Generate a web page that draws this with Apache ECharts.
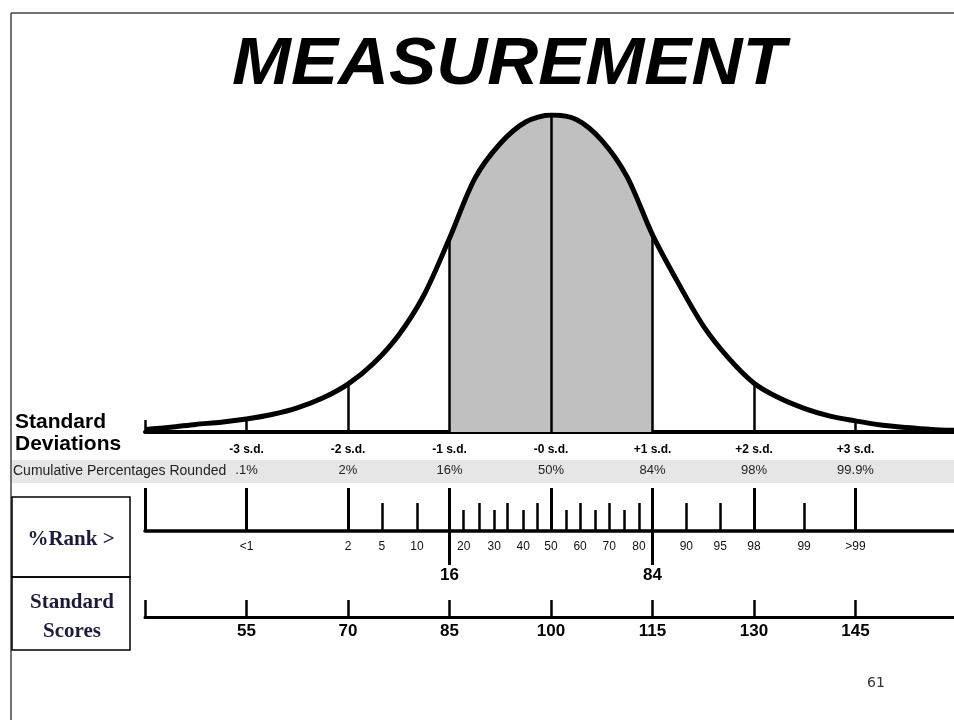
<!DOCTYPE html>
<html><head><meta charset="utf-8">
<script src="https://cdn.jsdelivr.net/npm/echarts@6/dist/echarts.min.js"></script>
<style>html,body{margin:0;padding:0;background:#fff;overflow:hidden}#c{width:954px;height:720px}</style>
</head><body><div id="c"></div>
<script>
// ---------- data ----------
const titleText = 'MEASUREMENT';
// bell curve: standard score vs curve height (% of peak), read every 1/4 s.d.
const curveScores  = [40, 43.75, 47.5, 51.25, 55, 58.75, 62.5, 66.25, 70, 73.75, 77.5, 81.25, 85, 88.75, 92.5, 96.25, 100,
                      103.75, 107.5, 111.25, 115, 118.75, 122.5, 126.25, 130, 133.75, 137.5, 141.25, 145, 148.75, 152.5, 156.25, 160];
const curveHeights = [0.8, 1.5, 2.4, 3.1, 4.1, 5.5, 7.6, 10.7, 15.1, 21.6, 30.6, 43.3, 61.1, 80, 91, 97.8, 100,
                      98.6, 92, 80.5, 62.2, 47.2, 33.5, 23.3, 15.4, 10.7, 7.4, 5.0, 3.5, 2.2, 1.4, 0.8, 0.5];
const shadeFrom = 85, shadeTo = 115;
// standard deviation marks
const sdScores = [55, 70, 85, 100, 115, 130, 145];
const sdLabels = ['-3 s.d.', '-2 s.d.', '-1 s.d.', '-0 s.d.', '+1 s.d.', '+2 s.d.', '+3 s.d.'];
const cumPercentLabels = ['.1%', '2%', '16%', '50%', '84%', '98%', '99.9%'];
const scoreLabels = ['55', '70', '85', '100', '115', '130', '145'];
// percentile rank scale (position given in standard-score units)
const rankNames  = ['<1', '2', '5', '10', '16', '20', '25', '30', '35', '40', '45', '50', '55', '60', '65', '70', '75', '80', '84', '90', '95', '98', '99', '>99'];
const rankScores = [55, 70, 75, 80.2, 85, 87.1, 89.4, 91.6, 93.6, 95.9, 97.9, 100, 102.2, 104.3, 106.5, 108.6, 110.8, 113, 115, 120, 125, 130, 137.4, 145];
const rankMajor = ['<1', '2', '16', '50', '84', '98', '>99'];
const rankShort = ['20', '30', '40', '55', '65', '75'];
const rankLabelled = ['<1', '2', '5', '10', '20', '30', '40', '50', '60', '70', '80', '90', '95', '98', '99', '>99'];
const rankBold = ['16', '84'];
const axisStart = 40, axisEnd = 160;

// ---------- helpers ----------
const rankPos = names => names.map(n => rankScores[rankNames.indexOf(n)]);
const rankTall = rankNames.filter(n => !rankMajor.includes(n) && !rankShort.includes(n));
const labelFor = (positions, texts) => v => {
  const i = positions.findIndex(p => Math.abs(p - v) < 1e-6);
  return i >= 0 ? texts[i] : '';
};
const curveData = curveScores.map((s, i) => [s, curveHeights[i]]);
const sdHeights = sdScores.map(s => curveHeights[curveScores.indexOf(s)]);
const F = 'Liberation Sans, Arial, sans-serif';
const SERIF = 'Liberation Serif, Times New Roman, serif';

function xa(grid, extra) {
  return Object.assign({
    type: 'value', gridIndex: grid, position: 'bottom', min: axisStart, max: axisEnd,
    splitLine: { show: false }, axisLine: { show: false },
    axisTick: { show: false }, axisLabel: { show: false }
  }, extra);
}

const chart = echarts.init(document.getElementById('c'), null, { renderer: 'canvas' });
chart.setOption({
  animation: false,
  backgroundColor: '#fff',
  grid: [
    { left: 145, top: 115, width: 812, height: 317, outerBoundsMode: 'none' },
    { left: 145, top: 488, width: 812, height: 43, outerBoundsMode: 'none' },
    { left: 145, top: 600, width: 812, height: 17, outerBoundsMode: 'none' }
  ],
  xAxis: [
    xa(0, {
      axisLine: { show: true, lineStyle: { color: '#000', width: 4 } },
      axisTick: { show: true, inside: true, length: 12, customValues: [axisStart], lineStyle: { color: '#000', width: 2.5 } },
      axisLabel: { show: true, customValues: sdScores, formatter: labelFor(sdScores, sdLabels),
        fontFamily: F, fontWeight: 'bold', fontSize: 12, color: '#000', margin: 12 }
    }),
    xa(0, {
      axisLabel: { show: true, customValues: sdScores, formatter: labelFor(sdScores, cumPercentLabels),
        fontFamily: F, fontSize: 13, color: '#222', margin: 32 }
    }),
    xa(1, {
      axisLine: { show: true, lineStyle: { color: '#000', width: 3.5 } },
      axisTick: { show: true, inside: true, length: 43, customValues: [axisStart].concat(rankPos(rankMajor)), lineStyle: { color: '#000', width: 3 } },
      axisLabel: { show: true, customValues: rankPos(rankLabelled), formatter: labelFor(rankPos(rankLabelled), rankLabelled),
        fontFamily: F, fontSize: 12, color: '#111', margin: 10 }
    }),
    xa(1, {
      axisTick: { show: true, inside: true, length: 28, customValues: rankPos(rankTall), lineStyle: { color: '#000', width: 2.5 } }
    }),
    xa(1, {
      axisTick: { show: true, inside: true, length: 21, customValues: rankPos(rankShort), lineStyle: { color: '#000', width: 2.5 } }
    }),
    xa(1, {
      axisTick: { show: true, inside: false, length: 34, customValues: rankPos(rankBold), lineStyle: { color: '#000', width: 3 } },
      axisLabel: { show: true, customValues: rankPos(rankBold), formatter: labelFor(rankPos(rankBold), rankBold),
        fontFamily: F, fontWeight: 'bold', fontSize: 17, color: '#000', margin: 36 }
    }),
    xa(2, {
      axisLine: { show: true, lineStyle: { color: '#000', width: 3 } },
      axisTick: { show: true, inside: true, length: 17, customValues: [axisStart].concat(sdScores), lineStyle: { color: '#000', width: 2.5 } },
      axisLabel: { show: true, customValues: sdScores, formatter: labelFor(sdScores, scoreLabels),
        fontFamily: F, fontWeight: 'bold', fontSize: 17, color: '#000', margin: 6 }
    })
  ],
  yAxis: [
    { type: 'value', gridIndex: 0, min: 0, max: 100, show: false, splitLine: { show: false } },
    { type: 'value', gridIndex: 1, min: 0, max: 1, show: false, splitLine: { show: false } },
    { type: 'value', gridIndex: 2, min: 0, max: 1, show: false, splitLine: { show: false } }
  ],
  visualMap: {
    type: 'piecewise', show: false, seriesIndex: 0, dimension: 0,
    pieces: [{ gte: shadeFrom, lte: shadeTo, color: '#c0c0c0' }],
    outOfRange: { color: 'rgba(255,255,255,0)' }
  },
  series: [
    {
      type: 'line', xAxisIndex: 0, yAxisIndex: 0, data: curveData, smooth: 0.3,
      symbol: 'none', lineStyle: { width: 0, opacity: 0 },
      areaStyle: { opacity: 1 }, silent: true, z: 1
    },
    {
      type: 'line', xAxisIndex: 0, yAxisIndex: 0, data: curveData, smooth: 0.3,
      symbol: 'none', lineStyle: { color: '#000', width: 5 }, itemStyle: { color: '#000' },
      silent: true, z: 3,
      markLine: {
        silent: true, symbol: ['none', 'none'], label: { show: false },
        lineStyle: { color: '#000', width: 2.5, type: 'solid' },
        data: sdScores.map((s, i) => [{ coord: [s, 0] }, { coord: [s, sdHeights[i]] }])
      }
    }
  ],
  graphic: [
    { type: 'text', x: 232, y: 66, scaleX: 1.055, style: { text: titleText, font: 'italic bold 67px ' + F, fill: '#000', verticalAlign: 'middle', align: 'left' } },
    { type: 'line', shape: { x1: 11, y1: 13, x2: 954, y2: 13 }, style: { stroke: '#444', lineWidth: 1.5 } },
    { type: 'line', shape: { x1: 11, y1: 13, x2: 11, y2: 720 }, style: { stroke: '#444', lineWidth: 1.5 } },
    { type: 'rect', z: -10, shape: { x: 12, y: 460, width: 942, height: 23 }, style: { fill: '#e6e6e6' } },
    { type: 'text', x: 13, y: 471, style: { text: 'Cumulative Percentages Rounded', font: '14px ' + F, fill: '#222', verticalAlign: 'middle', align: 'left' } },
    { type: 'text', x: 15, y: 422, style: { text: 'Standard', font: 'bold 21px ' + F, fill: '#000', verticalAlign: 'middle', align: 'left' } },
    { type: 'text', x: 15, y: 444, style: { text: 'Deviations', font: 'bold 21px ' + F, fill: '#000', verticalAlign: 'middle', align: 'left' } },
    { type: 'rect', shape: { x: 12, y: 497, width: 118, height: 80 }, style: { fill: 'none', stroke: '#000', lineWidth: 1.5 } },
    { type: 'rect', shape: { x: 12, y: 577, width: 118, height: 73 }, style: { fill: 'none', stroke: '#000', lineWidth: 1.5 } },
    { type: 'text', x: 71, y: 540, style: { text: '%Rank >', font: 'bold 21px ' + SERIF, fill: '#1c1c3a', verticalAlign: 'middle', align: 'center' } },
    { type: 'text', x: 72, y: 603, style: { text: 'Standard', font: 'bold 21px ' + SERIF, fill: '#1c1c3a', verticalAlign: 'middle', align: 'center' } },
    { type: 'text', x: 72, y: 632, style: { text: 'Scores', font: 'bold 21px ' + SERIF, fill: '#1c1c3a', verticalAlign: 'middle', align: 'center' } },
    { type: 'text', x: 876, y: 683, style: { text: '61', font: '14px DejaVu Sans, sans-serif', fill: '#333', verticalAlign: 'middle', align: 'center' } }
  ]
});
</script>
</body></html>
